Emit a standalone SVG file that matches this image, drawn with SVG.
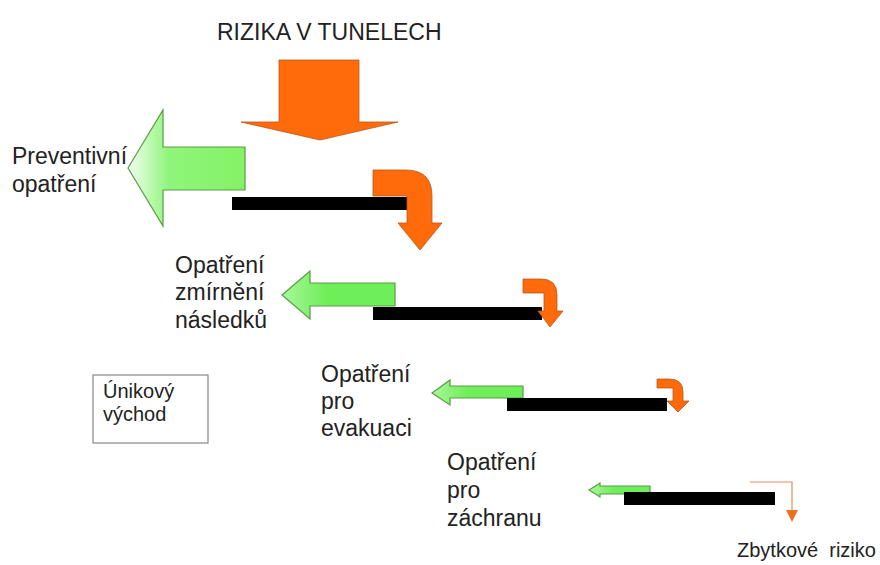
<svg xmlns="http://www.w3.org/2000/svg" width="880" height="565" viewBox="0 0 880 565">
<defs>
<linearGradient id="gBig" x1="0" y1="0" x2="1" y2="0">
<stop offset="0" stop-color="#f2fff0"/>
<stop offset="0.35" stop-color="#8ff57a"/>
<stop offset="1" stop-color="#84f266"/>
</linearGradient>
<linearGradient id="gSmall" x1="0" y1="0" x2="1" y2="0">
<stop offset="0" stop-color="#a8f79a"/>
<stop offset="0.4" stop-color="#6eee58"/>
<stop offset="1" stop-color="#6eee58"/>
</linearGradient>
<style>
text{font-family:"Liberation Sans",Arial,sans-serif;fill:#222;}
.lbl{font-size:23px;}
.green{stroke:#5c9a48;stroke-width:1.2;}
.orange{fill:#ff6a0a;stroke:#b8581a;stroke-width:0.8;}
.bar{fill:#000;}
</style>
</defs>
<g id="title"><text x="217" y="40" style="font-size:23px">RIZIKA V TUNELECH</text></g>
<g id="risk-arrow"><path class="orange" d="M279,60 H359 V122 H398 L320,140 L241,122 H279 Z"/></g>
<g id="preventivni">
<path class="green" fill="url(#gBig)" d="M128,168 L163,110 V147 H245 V190 H163 V226 Z"/>
<text class="lbl" x="12" y="164">Preventivní</text>
<text class="lbl" x="12" y="192">opatření</text>
</g>
<g id="bar1"><rect class="bar" x="232" y="197" width="175" height="13"/></g>
<g id="residual1"><path class="orange" d="M373,170 H406 Q432,170 432,196 V223 H442 L420,250 L398,223 H407 V196 H373 Z"/></g>
<g id="zmirneni">
<path class="green" fill="url(#gSmall)" d="M282,295 L310,271 V283 H395 V306 H310 V319 Z"/>
<text class="lbl" x="175" y="273">Opatření</text>
<text class="lbl" x="175" y="300">zmírnění</text>
<text class="lbl" x="175" y="328">následků</text>
</g>
<g id="bar2"><rect class="bar" x="373" y="307" width="169" height="13"/></g>
<g id="residual2"><path class="orange" d="M523,279 H541 Q557,279 557,295 V311 H563 L550,327 L538,311 H544 V293 H523 Z"/></g>
<g id="unikovy">
<rect x="93" y="375" width="115" height="68" fill="#fff" stroke="#888" stroke-width="1.2"/>
<text x="103" y="398" style="font-size:20px">Únikový</text>
<text x="103" y="421" style="font-size:20px">východ</text>
</g>
<g id="evakuace">
<path class="green" fill="url(#gSmall)" d="M432,393 L450,380 V386 H523 V398 H450 V405 Z"/>
<text class="lbl" x="321" y="382">Opatření</text>
<text class="lbl" x="321" y="409">pro</text>
<text class="lbl" x="321" y="436">evakuaci</text>
</g>
<g id="bar3"><rect class="bar" x="507" y="398" width="160" height="13"/></g>
<g id="residual3"><path class="orange" d="M657,379 H669 Q683,379 683,392 V401 H689 L678,412 L667,401 H673 V388 H657 Z"/></g>
<g id="zachrana">
<path class="green" fill="url(#gSmall)" d="M589,490 L600,483 V486 H650 V494 H600 V497 Z"/>
<text class="lbl" x="447" y="470">Opatření</text>
<text class="lbl" x="447" y="498">pro</text>
<text class="lbl" x="447" y="526">záchranu</text>
</g>
<g id="bar4"><rect class="bar" x="624" y="492" width="151" height="13"/></g>
<g id="connectors">
<path d="M750,482 H792 V511" fill="none" stroke="#e09060" stroke-width="1.2"/>
<path d="M786,510 H798 L792,522 Z" fill="#f07020"/>
</g>
<g id="zbytkove"><text x="737" y="557" style="font-size:20px" xml:space="preserve">Zbytkové  riziko</text></g>
</svg>
